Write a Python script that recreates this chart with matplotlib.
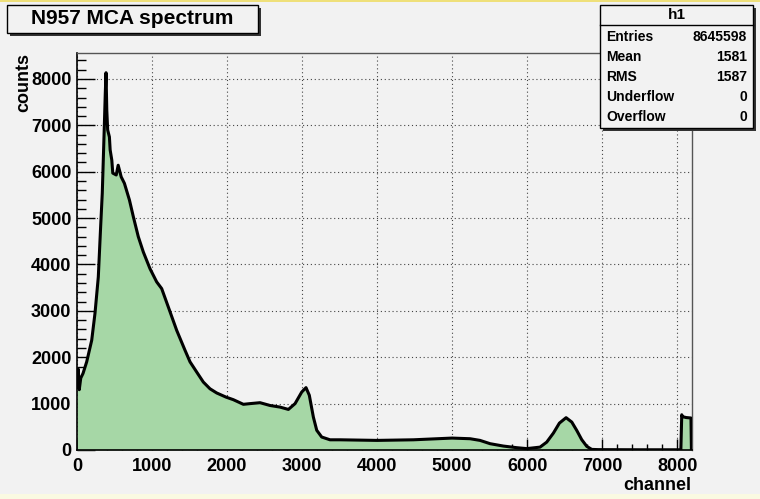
import matplotlib
matplotlib.use('Agg')
import matplotlib.pyplot as plt
from matplotlib.patches import Rectangle
from matplotlib.lines import Line2D
from matplotlib.ticker import MultipleLocator

plt.rcParams['font.family'] = ['Liberation Sans', 'DejaVu Sans']

# spectrum (channel, counts)
channel = [0, 15, 30, 50, 80, 129, 196, 240, 284, 315, 337, 364, 377, 387,
           397, 409, 432, 442, 464, 477, 523, 549, 589, 632, 699, 751, 817,
           884, 973, 1062, 1129, 1217, 1329, 1440, 1507, 1596, 1684, 1773,
           1862, 1987, 2084, 2218, 2307, 2440, 2573, 2707, 2818, 2907, 2996,
           3053, 3097, 3151, 3196, 3262, 3373, 3507, 4000, 4484, 5000, 5240,
           5373, 5507, 5684, 5862, 5996, 6173, 6262, 6351, 6431, 6520, 6596,
           6662, 6729, 6796, 6862, 6950, 7500, 8050, 8062, 8070, 8120, 8185,
           8191]
counts = [1350, 1750, 1300, 1550, 1650, 1900, 2365, 2950, 3730, 4810, 5540,
          6970, 7690, 8135, 7330, 6900, 6750, 6470, 6250, 5970, 5930, 6140,
          5890, 5750, 5390, 5030, 4600, 4270, 3910, 3625, 3480, 3085, 2580,
          2150, 1900, 1680, 1465, 1320, 1230, 1140, 1085, 985, 1000, 1020,
          960, 925, 875, 1000, 1250, 1345, 1180, 710, 425, 280, 220, 220, 207,
          220, 257, 243, 207, 136, 85, 50, 30, 62, 170, 365, 580, 697, 602,
          423, 222, 78, 13, 8, 5, 5, 760, 720, 700, 690, 0]

title = 'N957 MCA spectrum'
stat_names = ['Entries', 'Mean', 'RMS', 'Underflow', 'Overflow']
stat_vals = ['8645598', '1581', '1587', '0', '0']

W, H = 760, 499
bg = '#f2f2f2'
fig = plt.figure(figsize=(W / 100, H / 100), dpi=100, facecolor=bg)
ax = fig.add_axes([77 / W, 1 - 450 / H, (691.5 - 77) / W, (450 - 53) / H])
ax.set_facecolor(bg)


def fx(px):
    return px / W


def fy(py):
    return 1 - py / H


ax.fill_between(channel, counts, 0, color='#a6d7a6', lw=0, zorder=2)
ax.plot(channel, counts, color='black', lw=2.2, zorder=3)

ax.set_xlim(0, 8192)
ax.set_ylim(0, 8560)
ax.xaxis.set_major_locator(MultipleLocator(1000))
ax.xaxis.set_minor_locator(MultipleLocator(200))
ax.yaxis.set_major_locator(MultipleLocator(1000))
ax.yaxis.set_minor_locator(MultipleLocator(200))
ax.grid(True, which='major', color='#444444', ls=(0, (1, 2.5)), lw=0.8, zorder=1)
ax.tick_params(which='both', direction='in', top=False, right=False,
               labelsize=13, width=1, colors='black')
ax.tick_params(axis='x', which='major', length=8, pad=6)
ax.tick_params(axis='x', which='minor', length=4.5)
ax.tick_params(axis='y', which='major', length=13, pad=4)
ax.tick_params(axis='y', which='minor', length=6.5)
for lab in ax.get_xticklabels() + ax.get_yticklabels():
    lab.set_fontweight('bold')
for s in ['left', 'bottom']:
    ax.spines[s].set_color('black')
    ax.spines[s].set_linewidth(1.2)
for s in ['top', 'right']:
    ax.spines[s].set_color('#555555')
    ax.spines[s].set_linewidth(1.0)

fig.text(fx(24), fy(53), 'counts', rotation=90, ha='center', va='top',
         fontsize=13, fontweight='bold')
fig.text(fx(691), fy(485), 'channel', ha='right', va='center',
         fontsize=13, fontweight='bold')

# title box
fig.add_artist(Rectangle((fx(10), fy(36)), fx(251), fy(8) - fy(36),
                         facecolor='#333333', edgecolor='none'))
fig.add_artist(Rectangle((fx(7), fy(33)), fx(251), fy(5) - fy(33),
                         facecolor=bg, edgecolor='black', lw=1))
fig.text(fx(132), fy(19), title, ha='center', va='center',
         fontsize=15, fontweight='bold')

# stats box
fig.add_artist(Rectangle((fx(603), fy(131)), fx(153), fy(8) - fy(131),
                         facecolor='#333333', edgecolor='none'))
fig.add_artist(Rectangle((fx(600), fy(128)), fx(153), fy(5) - fy(128),
                         facecolor=bg, edgecolor='black', lw=1))
fig.add_artist(Line2D([fx(600), fx(753)], [fy(25), fy(25)], color='black', lw=1))
fig.text(fx(677), fy(15), 'h1', ha='center', va='center',
         fontsize=11, fontweight='bold')
for i, (n, v) in enumerate(zip(stat_names, stat_vals)):
    yy = fy(37 + i * 20)
    fig.text(fx(606), yy, n, ha='left', va='center', fontsize=10, fontweight='bold')
    fig.text(fx(747), yy, v, ha='right', va='center', fontsize=10, fontweight='bold')

# screenshot border strips
fig.add_artist(Rectangle((0, fy(2)), 1, fy(0) - fy(2), facecolor='#efe07a', edgecolor='none'))
fig.add_artist(Rectangle((0, 0), 1, fy(494), facecolor='#fafae2', edgecolor='none'))

fig.savefig('out.png', dpi=100, facecolor=bg)
